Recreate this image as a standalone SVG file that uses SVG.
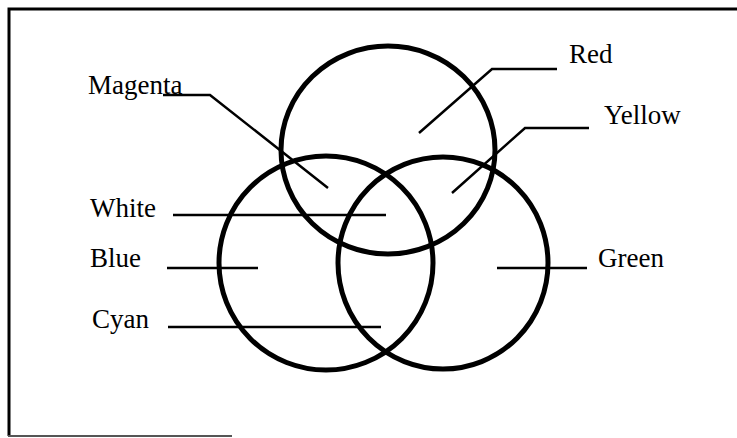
<svg xmlns="http://www.w3.org/2000/svg" width="737" height="438" viewBox="0 0 737 438">
<style>
.lbl{font-family:"Liberation Serif","Times New Roman",serif;font-size:27px;fill:#000}
.ring{fill:none;stroke:#000;stroke-width:5}
.lead{fill:none;stroke:#000;stroke-width:2.5}
.frame{fill:none;stroke:#000;stroke-width:3}
</style>
<rect width="737" height="438" fill="#fff"/>
<g id="frame">
<path class="frame" d="M9 436 V9 H737"/>
<path d="M8 436 H232" stroke="#555" stroke-width="2" fill="none"/>
</g>
<g id="red-circle"><ellipse class="ring" cx="388" cy="150" rx="107" ry="104"/></g>
<g id="blue-circle"><circle class="ring" cx="326" cy="263" r="107"/></g>
<g id="green-circle"><ellipse class="ring" cx="443" cy="263" rx="105" ry="106"/></g>
<g id="connectors">
<path class="lead" d="M163 95 H210 L328 188"/>
<path class="lead" d="M557 69 H492 L419 133"/>
<path class="lead" d="M589 128 H525 L452 193"/>
<path class="lead" d="M173 215 H386"/>
<path class="lead" d="M167 268 H258"/>
<path class="lead" d="M168 327 H381"/>
<path class="lead" d="M497 268 H587"/>
</g>
<g id="labels">
<g id="label-magenta"><text class="lbl" x="88" y="94">Magenta</text></g>
<g id="label-red"><text class="lbl" x="569" y="63">Red</text></g>
<g id="label-yellow"><text class="lbl" x="604" y="124">Yellow</text></g>
<g id="label-white"><text class="lbl" x="90" y="217">White</text></g>
<g id="label-blue"><text class="lbl" x="90" y="267">Blue</text></g>
<g id="label-cyan"><text class="lbl" x="92" y="328">Cyan</text></g>
<g id="label-green"><text class="lbl" x="598" y="267">Green</text></g>
</g>
</svg>
